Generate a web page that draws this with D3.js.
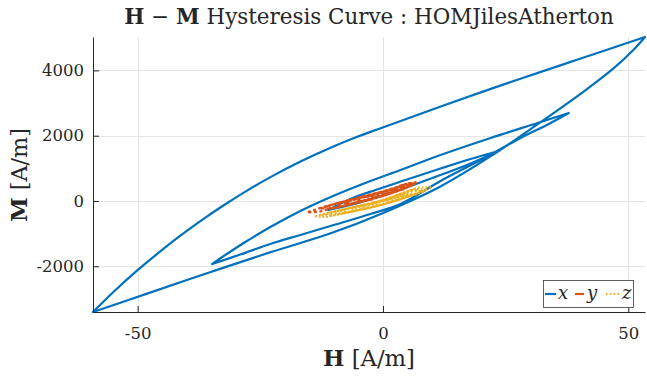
<!DOCTYPE html>
<html>
<head>
<meta charset="utf-8">
<script src="https://cdn.jsdelivr.net/npm/d3@7/dist/d3.min.js"></script>
<style>
  body { margin: 0; background: #fff; }
</style>
</head>
<body>
<svg id="chart" width="647" height="379"></svg>
<script>
// ---- data -------------------------------------------------------------
// x component: major loop, inner loop, small loop (null separates loops)
const hX = [-59.1, -47.48, -35.26, -23.03, -10.80, -0.20, 11.62, 21.81, 31.38, 41.17, 47.28, 51.36, 53.4,
            40.15, 26.49, 11.62, -0.20, -5.50, -10.80, -16.91, -23.03, -28.12, -32.61, -37.29,
            -41.37, -45.45, -50.13, -54.62, -59.1,
            null,
            -34.8, -29.08, -22.96, -16.84, -9.69, -2.55, 3.57, 11.73, 19.9, 28.06, 33.78, 37.86,
            31.53, 21.94, 11.73, 3.57, -2.55, -9.69, -16.84, -22.96, -28.06, -32.14, -34.8,
            null,
            -11.12, -6.63, -0.51, 5.61, 11.73, 17.86, 23.57,
            17.86, 11.73, 4.59, -1.53, -6.63, -11.12];
const mX = [-3400, -2806, -2181, -1574, -998, -380, 438, 1357, 2337, 3382, 4098, 4680, 5023,
            4356, 3669, 2885, 2245, 1951, 1623, 1201, 723, 279, -147, -625,
            -1072, -1550, -2135, -2741, -3400,
            null,
            -1930, -1639, -1317, -1041, -720, -398, -92, 613, 1256, 1930, 2359, 2695,
            2389, 1930, 1409, 950, 613, 184, -306, -796, -1256, -1654, -1930,
            null,
            -276, -123, 153, 459, 796, 1149, 1532,
            1286, 995, 643, 337, 61, -276];

// y component
const hY = [-2.0, 0.0, 2.5, 5.0, 3.0, 0.5, -2.5, -5.5, -8.0,
            -6.0, -3.5, -1.0, 2.0, 4.5, 6.5,
            4.0, 1.5, -1.5, -4.5, -7.5, -10.0, -12.0,
            -10.0, -7.0, -4.0, -1.0, 2.0, 4.5, 7.0,
            5.0, 2.5, -0.5, -3.5, -6.5, -9.5, -12.5, -15.5,
            -13.0, -10.5, -8.0, -5.0, -2.0, 1.0, 3.5, 6.0,
            3.5, 0.5, -2.5, -5.5, -8.0, -10.0,
            -8.0, -5.0, -2.0, 1.0, 4.5,
            2.0, -1.0, -4.0, -6.0,
            -4.0, -1.0, 2.0, 4.5, 6.8,
            4.5, 1.5, -1.5, -4.5, -7.5, -10.5, -13.0,
            -10.5, -7.5, -4.5, -1.5, 1.5, 3.5, 5.5,
            3.0, 0.0, -3.0, -6.0, -9.0,
            -6.5, -3.5, -0.5, 2.5, 6.2,
            3.5, 0.5, -2.0, -4.0,
            -1.5, 1.0, 3.0];
const mY = [100, 160, 290, 430, 420, 300, 180, 50, -40,
            -70, 40, 120, 250, 390, 520,
            490, 340, 230, 100, -10, -100, -190,
            -220, -110, 0, 130, 260, 400, 580,
            540, 380, 260, 150, 40, -70, -200, -350,
            -330, -230, -150, -40, 80, 210, 340, 480,
            440, 290, 180, 70, -30, -110,
            -150, -50, 60, 200, 380,
            340, 220, 110, 30,
            0, 110, 250, 390, 560,
            520, 360, 240, 130, 10, -120, -230,
            -230, -120, -10, 100, 230, 330, 450,
            420, 280, 160, 50, -60,
            -80, 30, 150, 290, 510,
            450, 320, 200, 120,
            150, 240, 330];

// z component
const hZ = [1.0, 3.5, 6.0,
            3.5, 1.0, -2.0, -5.0, -7.0, -9.0,
            -7.0, -4.5, -2.0, 0.5, 3.0, 5.5, 8.5,
            6.0, 3.0, 0.0, -3.0, -6.0, -9.0, -12.0,
            -9.5, -7.0, -4.0, -1.0, 2.0, 5.0, 7.5, 10.0,
            7.5, 4.5, 1.5, -1.5, -4.5, -7.5, -10.5, -14.0,
            -11.5, -8.5, -5.5, -2.5, 0.5, 3.5, 7.0,
            4.5, 1.5, -1.5, -4.5, -7.0,
            -4.5, -1.5, 1.5, 4.5, 7.0, 9.0,
            6.5, 3.5, 0.5, -2.5, -5.5, -8.5, -11.0,
            -8.5, -5.5, -2.5, 0.5, 3.0, 5.0,
            2.5, 0.0, -2.5, -5.0,
            -2.5, 0.0, 2.5, 5.0, 8.0,
            5.0, 2.0, -1.0, -4.0, -7.0, -10.0, -13.0,
            -10.0, -7.0, -4.0, -1.0, 2.0, 4.5, 6.5,
            4.0, 1.0, -1.5, -3.0,
            -0.5, 2.0, 4.0];
const mZ = [-20, 80, 190,
            180, 60, -60, -160, -230, -300,
            -330, -260, -190, -80, 30, 150, 300,
            330, 180, 20, -90, -190, -290, -390,
            -400, -330, -240, -140, -10, 130, 260, 420,
            420, 270, 110, -30, -130, -230, -340, -470,
            -490, -390, -290, -190, -80, 50, 220,
            220, 80, -50, -150, -230,
            -260, -170, -40, 100, 230, 350,
            370, 220, 50, -80, -180, -280, -360,
            -380, -300, -200, -80, 40, 140,
            110, -10, -110, -180,
            -200, -110, 0, 130, 300,
            290, 130, -20, -120, -220, -330, -440,
            -440, -350, -250, -150, -20, 100, 210,
            180, 40, -60, -110,
            -120, -20, 80];

const xTicks = [-50, 0, 50];
const yTicks = [-2000, 0, 2000, 4000];
const seriesNames = ["x", "y", "z"];
const seriesColors = ["#0072BD", "#D95319", "#EDB120"];

const SERIF = "'DejaVu Serif', 'Liberation Serif', serif";
const INK = "#262626";

// ---- layout -------------------------------------------------------------
const svg = d3.select("#chart");
const plot = { left: 93, right: 645, top: 37, bottom: 312 };

const allH = hX.concat(hY, hZ).filter(v => v !== null);
const allM = mX.concat(mY, mZ).filter(v => v !== null);
const x = d3.scaleLinear().domain(d3.extent(allH)).range([plot.left, plot.right]);
const y = d3.scaleLinear().domain(d3.extent(allM)).range([plot.bottom, plot.top]);

// grid
const grid = svg.append("g").attr("stroke", "#e4e4e4").attr("stroke-width", 1);
grid.selectAll(".gx").data(xTicks).join("line")
  .attr("x1", d => Math.round(x(d)) + 0.5).attr("x2", d => Math.round(x(d)) + 0.5)
  .attr("y1", plot.top).attr("y2", plot.bottom);
grid.selectAll(".gy").data(yTicks).join("line")
  .attr("y1", d => Math.round(y(d)) + 0.5).attr("y2", d => Math.round(y(d)) + 0.5)
  .attr("x1", plot.left).attr("x2", plot.right);

// ---- series -------------------------------------------------------------
function toPoints(h, m) {
  return h.map((v, i) => ({ h: v, m: m[i] }));
}

// split a loop into branches that run one way in H, so each can be smoothed
function branches(points) {
  const runs = [];
  let cur = [];
  points.forEach(p => {
    if (p.h === null) { if (cur.length) runs.push(cur); cur = []; }
    else cur.push(p);
  });
  if (cur.length) runs.push(cur);
  const out = [];
  runs.forEach(run => {
    let seg = [run[0]];
    let dir = 0;
    for (let i = 1; i < run.length; i++) {
      const d = Math.sign(run[i].h - run[i - 1].h);
      if (dir !== 0 && d !== 0 && d !== dir) {
        out.push(seg);
        seg = [run[i - 1]];
      }
      if (d !== 0) dir = d;
      seg.push(run[i]);
    }
    out.push(seg);
  });
  return out;
}

const smooth = d3.line().x(d => x(d.h)).y(d => y(d.m)).curve(d3.curveCatmullRom.alpha(0.5));
const straight = d3.line().x(d => x(d.h)).y(d => y(d.m));

const xPath = branches(toPoints(hX, mX)).map(b => smooth(b)).join("");

svg.append("path")
  .attr("d", xPath)
  .attr("fill", "none")
  .attr("stroke", seriesColors[0])
  .attr("stroke-width", 2.2)
  .attr("stroke-linecap", "round")
  .attr("stroke-linejoin", "round");

svg.append("path")
  .attr("d", straight(toPoints(hY, mY)))
  .attr("fill", "none")
  .attr("stroke", seriesColors[1])
  .attr("stroke-width", 2.2)
  .attr("stroke-dasharray", "3,2.5");

svg.append("path")
  .attr("d", straight(toPoints(hZ, mZ)))
  .attr("fill", "none")
  .attr("stroke", seriesColors[2])
  .attr("stroke-width", 2.2)
  .attr("stroke-dasharray", "1.6,2.2");

// ---- axes -------------------------------------------------------------
const xAxis = d3.axisBottom(x).tickValues(xTicks).tickFormat(d => String(d))
  .tickSizeInner(-6).tickSizeOuter(0).tickPadding(15);
const yAxis = d3.axisLeft(y).tickValues(yTicks).tickFormat(d => String(d))
  .tickSizeInner(-6).tickSizeOuter(0).tickPadding(9);

const gx = svg.append("g").attr("transform", `translate(0,${plot.bottom})`).call(xAxis);
const gy = svg.append("g").attr("transform", `translate(${plot.left},0)`).call(yAxis);
[gx, gy].forEach(g => {
  g.attr("font-family", SERIF).attr("font-size", 16.5);
  g.select(".domain").attr("stroke", INK).attr("stroke-width", 1);
  g.selectAll(".tick line").attr("stroke", INK);
  g.selectAll(".tick text").attr("fill", INK);
});

// ---- labels -------------------------------------------------------------
function label(parent, parts, size) {
  const t = parent.append("text")
    .attr("text-anchor", "middle")
    .attr("font-family", SERIF).attr("font-size", size).attr("fill", INK);
  parts.forEach(p => {
    t.append("tspan").attr("font-weight", p.bold ? "bold" : null).text(p.text);
  });
  return t;
}
function fitWidth(sel, target) {
  const w = sel.node().getComputedTextLength();
  const fs = parseFloat(sel.attr("font-size"));
  sel.attr("font-size", fs * target / w);
}

const title = label(svg, [
  { text: "H", bold: true }, { text: " \u2212 " }, { text: "M", bold: true },
  { text: " Hysteresis Curve : HOMJilesAtherton" }
], 20).attr("x", (plot.left + plot.right) / 2).attr("y", 24);
fitWidth(title, 490);

const xLabel = label(svg, [{ text: "H", bold: true }, { text: " [A/m]" }], 20)
  .attr("x", (plot.left + plot.right) / 2).attr("y", 366);
fitWidth(xLabel, 92);

const yLabel = label(svg, [{ text: "M", bold: true }, { text: " [A/m]" }], 20)
  .attr("transform", "translate(27,175) rotate(-90)");
fitWidth(yLabel, 94);

// ---- legend -------------------------------------------------------------
const lg = svg.append("g");
lg.append("rect")
  .attr("x", 543.5).attr("y", 280.5).attr("width", 90).attr("height", 27)
  .attr("fill", "#fff").attr("stroke", "#3a3a3a").attr("stroke-width", 0.8);
const legendItems = [
  { name: seriesNames[0], color: seriesColors[0], dash: null, x0: 545, x1: 556, tx: 558 },
  { name: seriesNames[1], color: seriesColors[1], dash: "9,3", x0: 575, x1: 585, tx: 587 },
  { name: seriesNames[2], color: seriesColors[2], dash: "1.6,2.2", x0: 606, x1: 620, tx: 622 }
];
legendItems.forEach(it => {
  lg.append("line")
    .attr("x1", it.x0).attr("x2", it.x1).attr("y1", 294).attr("y2", 294)
    .attr("stroke", it.color).attr("stroke-width", 2.2)
    .attr("stroke-dasharray", it.dash);
  lg.append("text")
    .attr("x", it.tx).attr("y", 299)
    .attr("font-family", SERIF).attr("font-size", 18).attr("font-style", "italic")
    .attr("fill", INK).text(it.name);
});
</script>
</body>
</html>
